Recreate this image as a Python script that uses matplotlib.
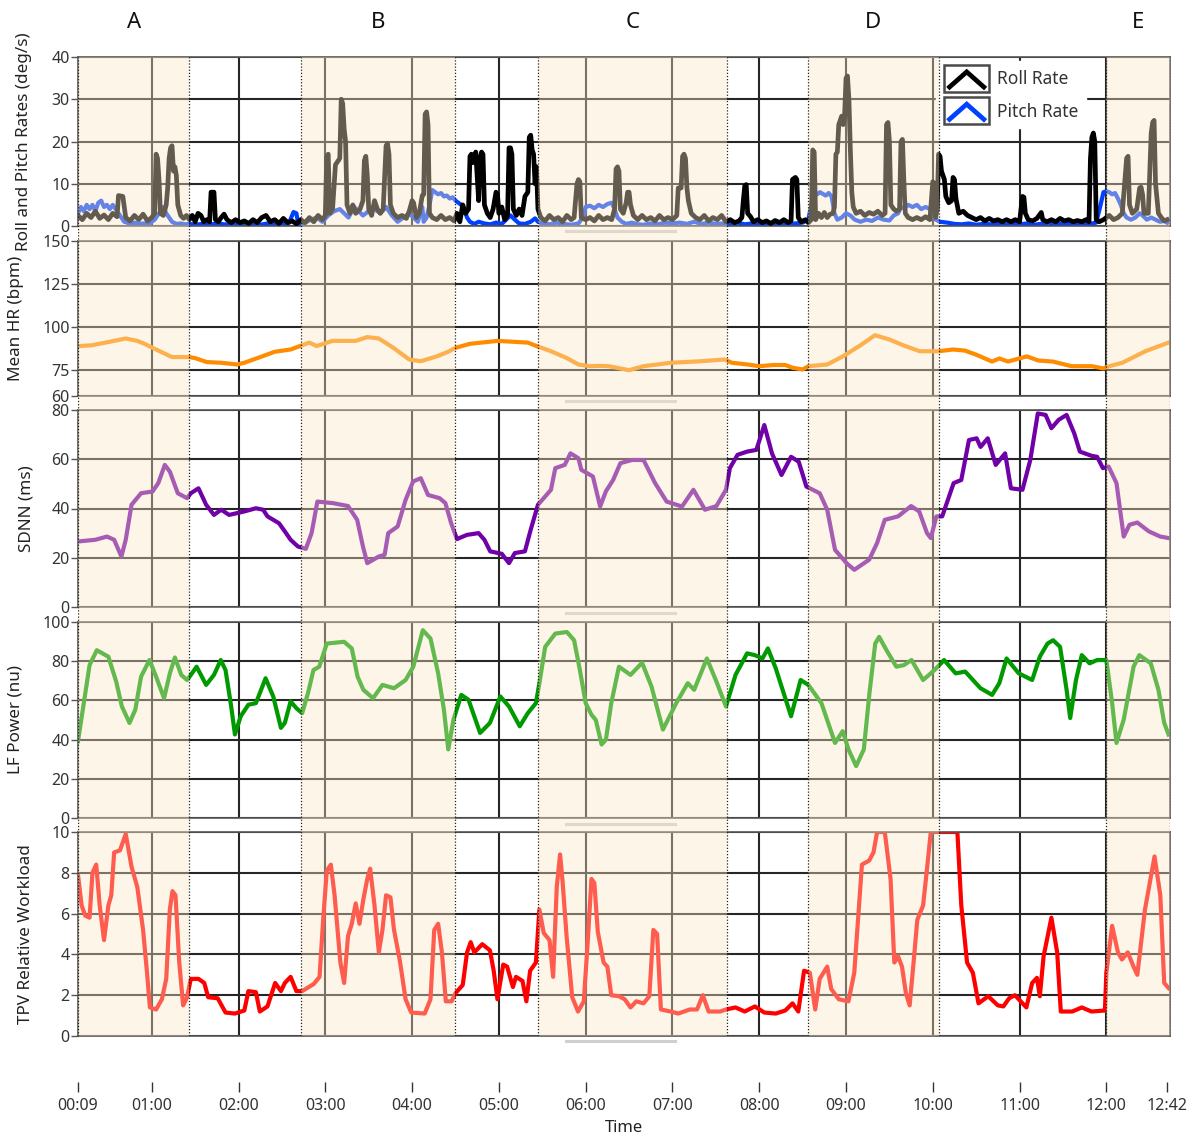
import numpy as np
import matplotlib.pyplot as plt
from matplotlib.legend_handler import HandlerBase
from matplotlib.lines import Line2D
from matplotlib.patches import Rectangle
from matplotlib.ticker import FuncFormatter

plt.rcParams['font.family'] = ['Noto Sans', 'DejaVu Sans']

# time in seconds from the start of the run
t_start, t_end = 9, 764
tick_secs = [9, 60, 120, 180, 240, 300, 360, 420, 480, 540, 600, 660, 720, 762]
grid_secs = [60, 120, 180, 240, 300, 360, 420, 480, 540, 600, 660, 720]

# task segments (shaded) and their letters
segments = [(9, 86), (163, 270), (327, 458), (514, 604), (720, 764)]
segment_names = ["A", "B", "C", "D", "E"]
segment_edges = [9, 86, 163, 270, 327, 458, 514, 604, 720, 764]

roll = [(9,2.5),(12,1.5),(15,3),(18,2),(21,3.5),(24,1.8),(27,2.6),(30,1.5),(33,3),(36,2.2),(37,7.2),(40,7),(42,2),
        (45,1.2),(48,2.5),(51,1.5),(54,2.8),(57,1.2),(60,2),(62,3),(63,17),(64,16),(65,11),(66,3),(68,2.5),(70,5),
        (71,9),(72,16),(73,18.5),(74,19),(75,13),(76,14),(77,12),(78,5),(80,2.5),(82,1.8),(84,2.5),(86,1.5),
        (88,2.5),(90,1),(92,3),(94,2.5),(96,1),(98,1.5),(100,1),(101,8),(103,8),(104,1.5),(106,1),(108,2),(110,2.8),
        (112,1.5),(115,0.8),(118,1.5),(121,0.8),(124,1.2),(127,0.6),(130,1.5),(133,0.8),(136,2),(139,2.5),(142,1),
        (145,1.5),(148,0.6),(151,1.8),(154,0.8),(157,1.2),(160,0.5),(163,1.5),
        (166,0.8),(169,2),(172,1),(175,2.5),(178,1.5),(180,2.5),(181,16.5),(182,17),(183,3),(185,4),(187,14.5),
        (188,15),(190,16),(191,30),(192,29),(193,23),(194,20),(195,5),(197,3),(199,5),(201,3),(204,4),(206,6),
        (207,15.5),(208,16.5),(209,12),(210,4),(212,2.5),(214,6),(216,4),(218,3),(220,4),(222,19),(223,19.5),
        (224,17),(225,5),(227,3),(230,2),(233,2.5),(236,1.8),(238,3.5),(240,6),(241,5.5),(243,2),(245,3),(247,7.2),
        (248,7.5),(249,26.5),(250,27),(251,24),(252,3),(254,2),(257,1.5),(260,2.5),(263,1.5),(266,2),(269,1.2),
        (271,3),(273,1),(275,5),(277,3),(279,4),(280,16.5),(281,17),(282,15),(283,16.5),(284,17.5),(286,6),
        (287,16),(288,17.5),(289,17),(290,5),(292,3),(294,2),(296,4),(298,8),(299,7.5),(300,3),(302,4.5),(304,1.5),
        (306,2.5),(307,18.5),(308,18.5),(309,17),(310,4),(312,2.5),(314,4),(316,2.5),(318,7),(320,8),(321,21),
        (322,21.5),(323,18),(324,17),(325,10),(326,14),(327,4),
        (329,2),(332,1.2),(335,2.5),(338,1.5),(341,2),(344,1),(347,2.5),(350,1.5),(352,2),(354,10),(355,11),
        (356,10.5),(357,2),(360,1.5),(363,2),(366,1.2),(369,2.5),(372,1.5),(375,2),(378,1.5),(380,4),(381,13.5),
        (382,14),(383,13),(384,4),(386,3),(388,5.5),(389,8),(390,8),(391,5),(393,2.5),(396,1.5),(399,2.5),
        (402,1.5),(405,2),(408,1.2),(411,2.5),(414,1.5),(417,2),(420,1.5),(423,2.5),(424,9),(426,9),(427,16.5),
        (428,17),(429,16),(430,9),(431,6),(433,3),(436,2),(439,1.5),(442,2.5),(445,1.2),(448,2),(451,1.5),
        (454,2.5),(457,1),
        (460,1.5),(463,0.8),(466,1.2),(468,2),(469,6),(470,9.5),(471,9.8),(472,3),(474,2.2),(476,1),(479,1.5),
        (482,0.8),(485,1.2),(488,0.6),(491,1.3),(494,0.8),(497,1.5),(500,0.8),(502,1.2),(503,11),(505,11.5),
        (506,11),(507,2),(509,1),(512,1.5),(514,0.8),
        (516,1.5),(517,18),(518,17.5),(519,1.5),(521,3),(523,2),(525,3.2),(527,2),(529,2.8),(531,3),(532,4.5),
        (533,17),(534,17.5),(535,24),(536,25),(537,26),(538,24),(539,26),(540,35),(541,35.5),(542,30),(543,18),
        (544,8),(545,4.5),(547,3),(550,3.5),(553,2.5),(556,3.2),(559,2.8),(562,3.5),(565,2.5),(567,3),(568,24),
        (569,24.5),(570,20),(571,5),(573,4),(575,3.5),(577,4),(578,20),(579,20.5),(580,10.5),(581,3),(583,2),
        (586,1.5),(589,2),(592,1.5),(595,2.2),(598,1.5),(600,10.5),(601,10),(602,2),
        (603,4),(604,17),(605,16.5),(606,13),(607,12),(608,11),(609,7),(611,5.5),(613,6),(614,11.5),(615,11),
        (616,6.5),(618,3),(621,3.5),(624,2.5),(627,2),(630,1.5),(633,2),(636,1.2),(639,1.8),(642,1.2),(645,1.5),
        (648,1),(651,1.5),(654,1),(657,1.5),(660,1),(662,7),(663,6.8),(664,3),(666,1.5),(669,1.2),(672,1.8),
        (675,3.2),(676,1.5),(679,1),(682,1.5),(685,1),(688,1.8),(691,1.2),(694,1.5),(697,1),(700,1.3),(703,1),
        (706,1.5),(708,1),(709,16),(710,21),(711,22),(712,20),(713,1.5),(715,1),(718,1.5),(720,2),
        (722,2.5),(725,1.5),(728,2),(731,3),(733,11.5),(734,16),(735,16.5),(736,5),(738,3),(741,4),(743,9),
        (744,9.2),(745,7.5),(746,3),(749,3),(751,22),(752,24.5),(753,25),(754,10),(756,3),(758,2),(760,1.2),(762,1.5)]

pitch = [(9,3),(11,4.5),(13,3.5),(15,5),(17,4),(19,5),(21,3.5),(23,5.5),(25,6),(27,4.5),(29,5),(31,4),(33,5),
         (35,4),(37,3),(39,2),(41,1),(43,0.8),(45,0.5),(48,0.8),(51,0.5),(54,0.6),(57,0.5),(60,1),(62,1.5),(64,2.5),
         (66,3.5),(68,4.5),(70,3),(72,2),(74,1),(77,0.5),(80,0.6),(83,0.4),(86,0.5),
         (90,0.3),(95,0.5),(100,0.3),(105,0.6),(110,0.4),(115,0.3),(120,0.5),(125,0.8),(130,0.5),(135,0.3),
         (140,0.6),(145,0.4),(150,0.5),(155,0.8),(157,2.5),(158,3.3),(160,3),(161,1),(163,0.5),
         (166,0.8),(170,1.5),(174,2),(178,1),(182,2.5),(186,3.5),(190,4),(193,3),(196,2),(200,4.5),(203,3.5),
         (206,2.5),(210,3.5),(214,4),(218,3),(222,4.5),(226,2.5),(230,1),(234,2),(238,3),(241,2),(244,1),(246,3.5),
         (247,4.5),(248,1),(250,2),(252,5),(254,8.5),(256,8),(258,7.5),(260,7.8),(262,7),(264,7.2),(266,6.5),(268,6.8),
         (270,6),(272,5.5),(274,5),(276,4),(278,2),(280,1),(283,0.5),(286,1),(290,0.6),(294,0.4),(298,0.8),
         (302,0.5),(305,1.5),(308,2.5),(311,1.5),(314,0.6),(318,0.5),(322,1),(325,1.8),(327,1),
         (330,0.6),(335,0.4),(340,0.8),(345,0.5),(350,0.3),(355,0.6),(358,2),(360,4.5),(363,4.8),(366,4.2),
         (369,5),(372,4.5),(375,5.2),(378,5.5),(380,4),(382,2),(385,1),(388,0.5),(392,0.8),(396,0.4),(400,0.3),
         (405,0.6),(410,0.4),(415,0.8),(420,0.6),(425,0.8),(430,0.5),(435,1),(440,0.5),(445,0.8),(450,0.5),(455,0.6),
         (460,0.5),(465,0.8),(470,0.4),(475,0.6),(480,0.3),(485,0.5),(490,0.4),(495,0.7),(500,0.4),(505,0.6),
         (510,0.8),(514,1.5),
         (516,5),(518,7.2),(520,7.5),(522,8),(524,7.6),(526,7.2),(528,7.8),(530,7),(532,3),(534,1.5),(537,2),
         (540,3),(543,2.5),(546,1.5),(550,1),(554,1.5),(558,1.2),(562,2),(566,1.5),(570,1.3),(573,2.5),(576,3),
         (578,4.5),(580,4.2),(583,5),(586,4.5),(589,5),(592,4),(595,4.5),(598,4),(600,3),(602,1.5),
         (605,1),(610,0.8),(615,0.5),(620,0.4),(625,0.6),(630,0.3),(635,0.5),(640,0.4),(645,0.6),(650,0.3),
         (655,0.5),(660,0.4),(665,0.6),(670,0.3),(675,0.5),(680,0.8),(685,0.4),(690,0.6),(695,0.4),(700,0.5),
         (705,0.4),(710,0.6),(713,0.8),(716,5),(718,8),(720,8.2),
         (722,8),(724,7.5),(726,7.8),(728,6.5),(730,5),(732,3),(734,2),(737,1.5),(740,2),(743,3),(745,2.5),
         (748,1.5),(751,2),(754,1.5),(757,1),(760,1.2),(762,0.8)]

mean_hr = [(9,89),(18,89.4),(31,91.5),(42,93.4),(50,92),(55,90.3),(63,87),(74,82.6),(86,82.6),(90,82),(98,79.7),
           (108,79.3),(119,78.3),(124,79.3),(135,82.6),(145,85.7),(156,87),(164,89.5),(169,91),(174,89),(185,92),
           (201,92),(209,94.2),(217,93.4),(227,88),(238,81.2),(246,80.2),(257,83),(265,85.7),(270,88),(280,90.3),
           (299,92),(320,91),(326,89),(336,86),(347,82),(355,78.3),(363,77.3),(370,77.5),(376,77.3),(390,75),
           (400,77.3),(419,79.3),(440,80.2),(456,81.2),(461,79.3),(472,78.3),(480,77.3),(490,78),(498,78),
           (503,76.4),(510,75.4),(514,77.3),(527,78.3),(538,83.1),(551,90),(560,95.3),(570,92.8),(580,89.3),
           (591,86),(604,86),(614,87),(622,86.4),(630,84),(641,80),(646,81.8),(652,80),(665,83),(673,80.6),
           (683,80),(696,77.3),(710,77.3),(718,76),(722,77.3),(731,79.3),(747,86),(763,91)]

sdnn = [(9,26.6),(21,27.3),(29,28.6),(34,27.3),(39,20.5),(42,27.3),(46,41.5),(52.6,46.2),(60.5,46.9),(64.5,50.3),
        (69,57.7),(72.5,55),(78,46.2),(84.4,44.2),(87,46.2),(92.3,48.2),(97.6,41.5),(103,37.4),(108,39.5),
        (113.5,37.4),(124,38.8),(132,40.1),(137,39.5),(140,36.8),(148,34),(152,30.7),(156,27.3),(161,24.6),
        (166.5,23.6),(170.5,30),(174.5,42.8),(185,42.2),(195.7,41),(202,35.4),(206,24.6),(209,17.8),(217,20.5),
        (221,21.2),(223.5,30),(230,32.7),(235.5,43.5),(240.7,51),(246,52.3),(251,45.5),(259,44.2),(263,42.2),
        (267,34),(271,27.6),(278,29.3),(286,30),(290,27.3),(294,22.6),(302,21.6),(307,17.8),(311,21.9),
        (318,22.6),(322,31.4),(327,41.5),(336,47.6),(339,56.4),(345.5,57.7),(349.5,62.4),(355,60.4),(357,55.7),
        (365,53),(370,40.8),(374,47),(379,51.6),(384,58.4),(392,59.7),(400,59.7),(408,50.3),(416,42.8),
        (426.6,40.8),(434.5,47.6),(442.5,39.5),(450.4,41),(457,47.6),(459.7,56.4),(465,61.8),(471.6,63.1),
        (478,63.8),(483.5,73.9),(488.8,62.4),(495.4,53.6),(502,61),(507.3,59),(512.6,48.9),(521.8,46.2),
        (527,39.5),(532.4,23.2),(540.4,17.8),(545.7,15.1),(556,19.2),(561.5,26),(566.8,35.4),(576,36.8),
        (585,41),(590.6,38.8),(596,30),(598.6,28),(602.5,36.8),(606.5,36.8),(614.4,50.3),(619.7,51.6),
        (625,67.8),(630.3,68.5),(633,65),(638,68.5),(643.5,57.7),(650,62.4),(654,48.2),(662,47.6),(667.4,59.7),
        (672.6,78.6),(678,78),(682,72.6),(687,76),(692.5,78),(697.8,70.5),(701.7,63.1),(709.7,61.4),
        (713.6,61),(717.6,56.4),(721.6,57),(727,50.3),(732,28.6),(736,33.4),(741.4,34.3),(749.4,30.7),
        (757.3,28.6),(763,28)]

lf_power = [(9,39.2),(13,58.6),(17,78),(22,85.6),(30,82.3),(35.4,69.6),(39.3,57),(44.6,48.5),(48.6,55.2),
            (52.6,72.1),(58.4,80.6),(63,72.1),(68.5,61.1),(72.5,73.8),(76,81.9),(80.4,73),(84.4,70.4),(87,73),
            (91,77.2),(97.6,67.9),(103,73),(107.7,80.6),(111,75.5),(114.9,57),(117.5,42.6),(121.5,51.9),
            (126.8,57.8),(132,58.6),(138.7,71.3),(144,62),(149.3,46),(152,48.5),(156,59.5),(160,56),(164,53.5),
            (168,63.7),(171.8,75.5),(175.8,77.2),(181,89),(193,89.9),(198.3,86.5),(202.3,72.1),(206.3,65.4),
            (213,61.1),(219.5,67.9),(227.5,66.2),(235.5,70.4),(240.8,77.2),(247.4,95.8),(252.7,91.6),(258,73.8),
            (262,55.2),(265,35),(268.6,50.2),(274,62.8),(279,60.3),(287,43.4),(293.8,48.5),(301,62),(307,56.9),
            (314.4,46.8),(320,53.5),(325.6,58.6),(328,68.8),(332,87.3),(339,94.1),(347,94.9),(352,90.7),
            (356,75.5),(360,58.6),(364,52.7),(367,50),(371,37.5),(374,40),(377.7,58.6),(383,77.2),(391,73),
            (399,79.2),(405.5,67.1),(413.4,45.1),(422.6,58.6),(430.6,68.8),(435,65.4),(443.8,81.4),(450.4,69.6),
            (457,56.9),(463.6,73),(471.6,84),(476.9,83.1),(482.2,81.4),(486,86.5),(491.4,76.4),(502,51.9),
            (508.6,70.4),(514,67.9),(523,58.6),(532.4,38.3),(537.7,44.3),(541.7,35),(547,26.5),(552.3,35),
            (556.2,63.7),(560.2,89),(562.9,92.4),(568,85.6),(574.8,77.2),(580,78),(585.3,80.6),(593.3,70.4),
            (601.2,75.5),(607.8,80.6),(615.8,73.8),(622.4,74.7),(633,66.2),(641,62.8),(646,68.8),(651,81.4),
            (659.4,73.8),(668.7,70.4),(674,82.3),(679.3,89),(683.2,90.7),(688,87.3),(692.5,65.4),(695,51),
            (699,70.4),(703,83.1),(708.4,78.9),(713.6,80.6),(720,80.6),(724,58.6),(727,38.3),(732,50.2),
            (738.8,77.2),(742.8,83.1),(750.7,78.9),(756,65.4),(760,48.5),(763,42.6)]

tpv = [(9,7.9),(11.5,6.4),(14,5.9),(17,5.8),(19,8),(21.6,8.4),(24,6.4),(27,4.7),(30,6.4),(32,6.9),(34,9),(38,9.1),
       (42,9.9),(46,8.3),(50,7.3),(54,5.2),(56.6,3.2),(58.7,1.4),(63,1.3),(67,1.8),(70,2.8),(72.5,6.2),(74.3,7.1),
       (76.4,6.9),(79,3.6),(81.7,1.5),(84.4,1.9),(87,2.8),(92.3,2.8),(96.3,2.6),(99,1.9),(105.6,1.85),(111,1.15),
       (117.5,1.1),(124,1.25),(126.8,2.2),(132,2.15),(134.7,1.2),(140,1.45),(145.3,2.6),(149.3,2.2),(152,2.6),
       (156,2.9),(160,2.2),(164,2.2),(172,2.55),(176,2.9),(178.5,5.7),(181,8.1),(183.8,8.4),(186.4,6.9),
       (190.4,3.6),(193,2.6),(195.7,4.9),(198.3,5.5),(201,6.5),(203.6,5.5),(206.3,6.7),(209,7.7),(211,8.2),
       (214,6.4),(217,4.1),(219.5,5.2),(222,6.9),(225,6.8),(227.5,5.2),(231.5,3.7),(235.5,1.8),(239.4,1.15),
       (248.7,1.1),(252.7,1.8),(255.3,5.2),(258,5.5),(260.6,4.1),(263.3,1.7),(267.3,1.7),(270,2.1),(275,2.5),
       (278,4.1),(280.5,4.6),(283,4.1),(288.5,4.5),(293.8,4.2),(296.4,3.2),(299,1.8),(303,3.5),(305.7,3.4),
       (309.7,2.4),(311.8,2.9),(316.3,2.7),(319,1.7),(321.6,3.2),(325.6,3.6),(328,6.2),(331,5.05),(335,4.7),
       (337.5,2.9),(340,7.3),(342.3,8.9),(344,7.6),(346.8,4.9),(350.7,1.9),(354.7,1.2),(358.7,1.7),(361.4,4.6),
       (364,7.7),(366,7.5),(368.4,5.1),(372.4,3.6),(375,3.4),(377.7,2.0),(383,1.95),(387,1.8),(391,1.4),(395,1.7),
       (400,1.6),(404,1.95),(406.8,5.2),(409.4,5),(412,1.3),(418.7,1.2),(424,1.1),(432,1.3),(437,1.3),(441,2.0),
       (445,1.2),(453,1.2),(457,1.3),(463.6,1.4),(470,1.2),(477,1.45),(483.5,1.15),(491.4,1.1),(498,1.25),
       (503,1.6),(507,1.2),(511,3.2),(515,3.1),(518.7,1.3),(521.8,2.8),(527,3.4),(529.8,2.3),(535,1.8),
       (541.7,1.7),(545.7,3.1),(551,8.4),(556,8.6),(559,9),(561.5,10),(566.8,10),(570.8,7.7),(573.4,3.6),
       (576,3.9),(578.7,3.4),(581.4,2.1),(584,1.5),(586.7,3.6),(589.3,5.7),(593.3,6.4),(596,8.2),(598.6,10),
       (617,10),(619.7,6.4),(623.7,3.6),(627.7,3.1),(631.6,1.6),(638.3,1.95),(645,1.5),(648.8,1.45),(652.8,1.85),
       (656.8,2.0),(660.7,1.7),(664.7,1.4),(668.7,2.6),(672,2.85),(674,1.95),(676.6,3.9),(682,5.8),(686,4.1),
       (688.5,1.2),(696.4,1.2),(703,1.4),(709.7,1.2),(719,1.25),(720,3.1),(724,5.4),(728,4.1),(730.8,3.75),
       (734.8,4.1),(738.8,3.4),(741.4,3.0),(746.7,6.2),(753.3,8.8),(757.3,6.9),(760,2.6),(763,2.35)]


class ChevronHandler(HandlerBase):
    # legend key: framed box with a "^" stroke in the series colour
    def create_artists(self, legend, orig_handle, xdescent, ydescent, width, height, fontsize, trans):
        x0, y0 = -xdescent, -ydescent
        frame = Rectangle((x0, y0 - 3), width, height + 6, fc='white', ec='#4a4a4a', lw=1.8, transform=trans)
        stroke = Line2D([x0 + 0.12 * width, x0 + 0.5 * width, x0 + 0.88 * width],
                        [y0 + 0.05 * height, y0 + 0.85 * height, y0 + 0.05 * height],
                        color=orig_handle.get_color(), lw=3.4, solid_joinstyle='miter', transform=trans)
        return [frame, stroke]


W, H = 1194, 1139
fig = plt.figure(figsize=(W / 100, H / 100), dpi=100)


def panel_box(top, bottom):
    return [78 / W, 1 - bottom / H, 1092 / W, (bottom - top) / H]


def mmss(s, pos=None):
    s = int(round(s))
    return f"{s // 60:02d}:{s % 60:02d}"


grid_col = '#262626'
tick_col = '#333333'

panels = [
    dict(box=(57, 226), ylim=(0, 40), yticks=[0, 10, 20, 30, 40], label="Roll and Pitch Rates (deg/s)", lx=-0.042),
    dict(box=(241, 396), ylim=(60, 150), yticks=[60, 75, 100, 125, 150], label="Mean HR (bpm)", lx=-0.049),
    dict(box=(410, 607), ylim=(0, 80), yticks=[0, 20, 40, 60, 80], label="SDNN (ms)", lx=-0.040),
    dict(box=(622, 818), ylim=(0, 100), yticks=[0, 20, 40, 60, 80, 100], label="LF Power (nu)", lx=-0.050),
    dict(box=(832, 1036), ylim=(0, 10), yticks=[0, 2, 4, 6, 8, 10], label="TPV Relative Workload", lx=-0.040),
]

axes = []
for p in panels:
    ax = fig.add_axes(panel_box(*p['box']))
    ax.set_xlim(t_start, t_end)
    ax.set_ylim(*p['ylim'])
    ax.set_yticks(p['yticks'])
    ax.set_xticks(grid_secs)
    ax.tick_params(axis='x', length=0, labelbottom=False)
    ax.tick_params(axis='y', length=5, width=1, color='#555555', labelsize=11.5, labelcolor=tick_col, pad=1)
    ax.grid(True, color=grid_col, lw=1.5)
    ax.set_axisbelow(True)
    for sp in ax.spines.values():
        sp.set_color('#555555')
        sp.set_linewidth(1.2)
    ax.set_ylabel(p['label'], fontsize=12.3, color='#222222')
    ax.yaxis.set_label_coords(p['lx'], 0.5)
    axes.append(ax)

ax_rate, ax_hr, ax_sdnn, ax_lf, ax_tpv = axes

pt, pv = np.array(pitch).T
rt, rv = np.array(roll).T
ax_rate.plot(pt, pv, color='#0040ff', lw=3.0, zorder=2)
ax_rate.plot(rt, rv, color='black', lw=3.4, zorder=3)

for ax, series, col in [(ax_hr, mean_hr, '#ff8c00'), (ax_sdnn, sdnn, '#7000a8'),
                        (ax_lf, lf_power, '#009a00'), (ax_tpv, tpv, '#ff0000')]:
    t, v = np.array(series).T
    ax.plot(t, v, color=col, lw=3.0)

leg_handles = [Line2D([], [], color='black'), Line2D([], [], color='#0040ff')]
leg = ax_rate.legend(leg_handles, ["Roll Rate", "Pitch Rate"], handler_map={Line2D: ChevronHandler()},
                     loc='upper left', bbox_to_anchor=(0.786, 0.975), fontsize=12.5, labelcolor='#333333',
                     handlelength=2.6, handleheight=1.3, handletextpad=0.45, labelspacing=0.75,
                     borderpad=0.45, borderaxespad=0, frameon=True, fancybox=False, framealpha=1)
leg.get_frame().set_facecolor('white')
leg.get_frame().set_edgecolor('white')
leg.set_zorder(5)

# translucent segment shading laid over all five panels
ov = fig.add_axes(panel_box(57, 1036))
ov.set_xlim(t_start, t_end)
ov.set_ylim(0, 1)
ov.axis('off')
ov.set_zorder(10)
for (a, b), name in zip(segments, segment_names):
    ov.axvspan(a, b, color='#fae8c5', alpha=0.4, lw=0)
    ov.text((a + b) / 2, 1 + 35 / 979, name, transform=ov.get_xaxis_transform(), ha='center', va='center',
            fontsize=16, color='#111111')
for e in segment_edges:
    ov.axvline(e, color='#222222', lw=0.9, ls=(0, (1, 1.5)))

# leftover scroll bars under each panel
for y in [231, 401, 613, 824, 1041]:
    fig.add_artist(Line2D([566 / W, 675 / W], [1 - y / H, 1 - y / H], color='#cfcfcf', lw=2.2,
                          transform=fig.transFigure))

# shared time axis at the bottom
tax = fig.add_axes([78 / W, 1 - 1092 / H, 1092 / W, 0.5 / H])
tax.set_xlim(t_start, t_end)
tax.set_yticks([])
for sp in tax.spines.values():
    sp.set_visible(False)
tax.set_xticks(tick_secs)
tax.xaxis.set_major_formatter(FuncFormatter(mmss))
tax.tick_params(axis='x', direction='in', length=7, width=1, color='#333333', labelsize=11.5,
                labelcolor=tick_col, pad=4)
tax.set_xlabel("Time", fontsize=12, color='#222222', labelpad=5)

fig.savefig("out.png", dpi=100)
